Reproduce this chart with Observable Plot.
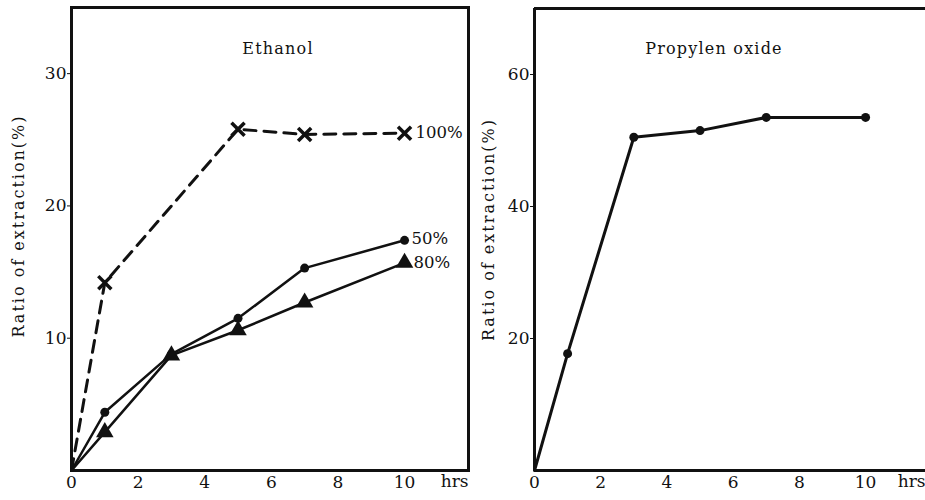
<!DOCTYPE html>
<html>
<head>
<meta charset="utf-8">
<script src="https://cdn.jsdelivr.net/npm/d3@7"></script>
<script src="https://cdn.jsdelivr.net/npm/@observablehq/plot@0.6"></script>
<style>
  body { margin: 0; background: #fff; }
  #wrap { display: flex; width: 925px; height: 500px; overflow: hidden; }
  svg text { fill: #111; }
</style>
</head>
<body>
<div id="wrap"></div>
<script>
// ---- data ----
const hours = [0, 1, 3, 5, 7, 10];
const hours100 = [0, 1, 5, 7, 10];
const ethanol100 = [0, 14.2, 25.8, 25.4, 25.5];
const ethanol50 = [0, 4.4, 8.8, 11.5, 15.3, 17.4];
const ethanol80 = [0, 2.9, 8.7, 10.6, 12.7, 15.7];
const propylene = [0, 17.7, 50.5, 51.5, 53.5, 53.5];

const xTicks = [0, 2, 4, 6, 8, 10];
const ethTicks = [10, 20, 30];
const propTicks = [20, 40, 60];
const ethDomain = [0, 35];
const propDomain = [0, 70];
const xDomainLeft = [0, 11.92];
const xDomainRight = [0, 11.81];

const titleLeft = "Ethanol";
const titleRight = "Propylen oxide";
const yLabel = "Ratio of extraction(%)";
const xUnit = "hrs";
const seriesLabels = ["100%", "50%", "80%"];

const toRows = (xs, ys) => xs.map((x, i) => ({x, y: ys[i]}));
const s100 = toRows(hours100, ethanol100);
const s50 = toRows(hours, ethanol50);
const s80 = toRows(hours, ethanol80);
const sProp = toRows(hours, propylene);

const baseStyle = {fontFamily: "DejaVu Serif", fontSize: "17px", background: "white", overflow: "visible", color: "#111"};

const left = Plot.plot({
  width: 470, height: 500,
  marginLeft: 71, marginRight: 2, marginTop: 7, marginBottom: 30,
  style: baseStyle,
  x: {domain: xDomainLeft, ticks: xTicks, tickSize: 0, tickPadding: 5, label: null},
  y: {domain: ethDomain, ticks: ethTicks, tickSize: 4, tickPadding: 1, label: null},
  marks: [
    Plot.frame({stroke: "#111", strokeWidth: 3}),
    Plot.line(s100, {x: "x", y: "y", stroke: "#111", strokeWidth: 3, strokeDasharray: "12,8"}),
    Plot.dot(s100.slice(1), {x: "x", y: "y", symbol: "times", r: 6, stroke: "#111", strokeWidth: 3.5}),
    Plot.line(s50, {x: "x", y: "y", stroke: "#111", strokeWidth: 2.5}),
    Plot.dot(s50.slice(1), {x: "x", y: "y", r: 4.5, fill: "#111"}),
    Plot.line(s80, {x: "x", y: "y", stroke: "#111", strokeWidth: 2.5}),
    Plot.dot(s80.slice(1), {x: "x", y: "y", symbol: "triangle", r: 6.5, fill: "#111"}),
    Plot.text([s100[s100.length - 1]], {x: "x", y: "y", text: () => seriesLabels[0], dx: 11, textAnchor: "start", fontSize: 16.5}),
    Plot.text([s50[s50.length - 1]], {x: "x", y: "y", text: () => seriesLabels[1], dx: 7, dy: -2, textAnchor: "start", fontSize: 16.5}),
    Plot.text([s80[s80.length - 1]], {x: "x", y: "y", text: () => seriesLabels[2], dx: 9, textAnchor: "start", fontSize: 16.5}),
    Plot.text([titleLeft], {frameAnchor: "top", dx: 8, dy: 41, lineAnchor: "middle", fontSize: 16}),
    Plot.text([yLabel], {frameAnchor: "left", dx: -53, dy: -13, rotate: -90, textAnchor: "middle", lineAnchor: "middle", fontSize: 16}),
    Plot.text([xUnit], {frameAnchor: "bottom-right", dy: 11, textAnchor: "end", lineAnchor: "middle", fontSize: 17})
  ]
});

const right = Plot.plot({
  width: 455, height: 500,
  marginLeft: 64, marginRight: 0, marginTop: 8, marginBottom: 30,
  style: baseStyle,
  x: {domain: xDomainRight, ticks: xTicks, tickSize: 0, tickPadding: 5, label: null},
  y: {domain: propDomain, ticks: propTicks, tickSize: 4, tickPadding: 1, label: null},
  marks: [
    Plot.ruleX([xDomainRight[0]], {stroke: "#111", strokeWidth: 3}),
    Plot.ruleY(propDomain, {stroke: "#111", strokeWidth: 3}),
    Plot.line(sProp, {x: "x", y: "y", stroke: "#111", strokeWidth: 3}),
    Plot.dot(sProp.slice(1), {x: "x", y: "y", r: 4.5, fill: "#111"}),
    Plot.text([titleRight], {frameAnchor: "top", dx: -16, dy: 40, lineAnchor: "middle", fontSize: 16}),
    Plot.text([yLabel], {frameAnchor: "left", dx: -46, dy: -10, rotate: -90, textAnchor: "middle", lineAnchor: "middle", fontSize: 16}),
    Plot.text([xUnit], {frameAnchor: "bottom-right", dy: 11, textAnchor: "end", lineAnchor: "middle", fontSize: 17})
  ]
});

// letter spacing for the wide old-print look
for (const svg of [left, right]) {
  d3.select(svg).selectAll("text").each(function () {
    const t = this.textContent;
    if (t === yLabel) d3.select(this).style("letter-spacing", "2px");
    else if (t === titleLeft || t === titleRight) d3.select(this).style("letter-spacing", "1.2px");
  });
}

document.getElementById("wrap").append(left, right);
</script>
</body>
</html>
